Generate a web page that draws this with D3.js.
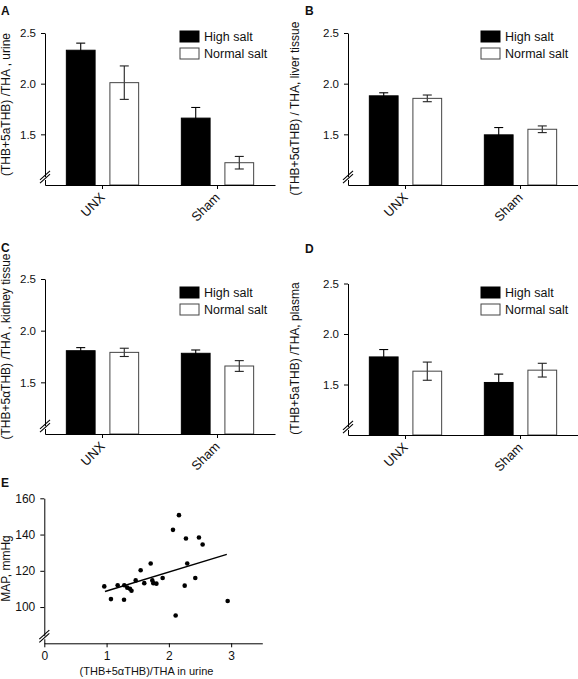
<!DOCTYPE html>
<html><head><meta charset="utf-8">
<script src="https://cdn.jsdelivr.net/npm/d3@7"></script>
<style>body{margin:0;background:#fff} svg{display:block} text{font-family:"Liberation Sans",Arial,sans-serif;fill:#111}</style>
</head><body><svg id="c" width="578" height="679"></svg>
<script>
// ---------- data ----------
const categories = ["UNX", "Sham"];
const seriesNames = ["High salt", "Normal salt"];
const barTicks = [1.5, 2.0, 2.5];
const aHigh = [2.33, 1.66],  aHighErr = [0.07, 0.105];
const aNormal = [2.01, 1.22], aNormalErr = [0.165, 0.062];
const bHigh = [1.88, 1.495], bHighErr = [0.03, 0.072];
const bNormal = [1.855, 1.55], bNormalErr = [0.033, 0.033];
const cHigh = [1.806, 1.781], cHighErr = [0.03, 0.032];
const cNormal = [1.79, 1.658], cNormalErr = [0.04, 0.052];
const dHigh = [1.773, 1.52], dHighErr = [0.073, 0.083];
const dNormal = [1.632, 1.642], dNormalErr = [0.09, 0.068];
const eX = [0.963,1.07,1.178,1.284,1.28,1.332,1.375,1.40,1.467,1.547,1.605,1.708,1.734,1.75,1.80,1.90,2.066,2.162,2.109,2.254,2.274,2.295,2.424,2.483,2.542,2.944];
const eY = [111.4,104.4,112.0,112.0,104.0,110.7,110.1,109.0,114.7,120.3,113.2,124.0,114.7,113.2,112.9,116.0,142.6,150.7,95.3,111.8,137.8,124.0,116.0,138.4,134.5,103.3];
const eLineX = [0.974, 2.93], eLineY = [108.6, 129.1];
const eXTicks = [0, 1, 2, 3], eYTicks = [100, 120, 140, 160];

// ---------- layout ----------
const svg = d3.select("#c");
const FONT = '"Liberation Sans",Arial,sans-serif';
const panels = [
  {label:"A", lx:1, ly:15, ylab:"(THB+5aTHB) /THA , urine", ylx:10, yly:104.5, x0:45, yTop:33, yBot:185, legX:180, legY:31, high:aHigh, highErr:aHighErr, normal:aNormal, normalErr:aNormalErr},
  {label:"B", lx:305, ly:15, ylab:"(THB+5\u03b1THB) / THA, liver tissue", ylx:299, yly:108.5, x0:348, yTop:33, yBot:185, legX:481, legY:31, high:bHigh, highErr:bHighErr, normal:bNormal, normalErr:bNormalErr},
  {label:"C", lx:1, ly:252, ylab:"(THB+5\u03b1THB) /THA , kidney tissue", ylx:10, yly:346.5, x0:45, yTop:279, yBot:434, legX:180, legY:287, high:cHigh, highErr:cHighErr, normal:cNormal, normalErr:cNormalErr},
  {label:"D", lx:305, ly:253, ylab:"(THB+5aTHB) /THA, plasma", ylx:299, yly:358.5, x0:348, yTop:283.5, yBot:435, legX:481, legY:287, high:dHigh, highErr:dHighErr, normal:dNormal, normalErr:dNormalErr}
];

function breakMark(g, x, y) {
  g.append("line").attr("x1", x-4).attr("x2", x+4).attr("y1", y+1.5).attr("y2", y+1.5).attr("stroke","#fff").attr("stroke-width",3);
  [-1.6, 1.6].forEach(o => {
    g.append("line").attr("x1", x-5).attr("y1", y+o+4.5).attr("x2", x+5).attr("y2", y+o-4.5)
      .attr("stroke","#000").attr("stroke-width",1.1);
  });
}

panels.forEach(p => {
  const g = svg.append("g");
  const y = d3.scaleLinear().domain([1.0, 2.5]).range([p.yBot, p.yTop]);
  const x0 = d3.scaleBand().domain(categories).range([p.x0, p.x0 + 230]).padding(0);
  const x1 = d3.scaleBand().domain(seriesNames).range([0, x0.bandwidth()]).paddingInner(0.34).paddingOuter(0.49);

  const rows = [];
  categories.forEach((c, i) => {
    rows.push({c, s:seriesNames[0], v:p.high[i], e:p.highErr[i]});
    rows.push({c, s:seriesNames[1], v:p.normal[i], e:p.normalErr[i]});
  });
  rows.forEach(r => {
    const cx = x0(r.c) + x1(r.s) + x1.bandwidth()/2;
    const col = r.s === seriesNames[0] ? "#000" : "#222";
    g.append("line").attr("x1", cx).attr("x2", cx).attr("y1", y(r.v + r.e)).attr("y2", y(r.v - r.e)).attr("stroke", col).attr("stroke-width", 1.1);
    [r.v + r.e, r.v - r.e].forEach(v => {
      g.append("line").attr("x1", cx-4.5).attr("x2", cx+4.5).attr("y1", y(v)).attr("y2", y(v)).attr("stroke", col).attr("stroke-width", 1.1);
    });
  });
  rows.forEach(r => {
    const isHigh = r.s === seriesNames[0];
    g.append("rect").attr("x", x0(r.c) + x1(r.s)).attr("y", y(r.v))
      .attr("width", x1.bandwidth()).attr("height", y(1.0) - y(r.v))
      .attr("fill", isHigh ? "#000" : "#fff")
      .attr("fill-opacity", isHigh ? 1 : 0)
      .attr("stroke", isHigh ? "#000" : "#444").attr("stroke-width", 1);
  });

  const ya = g.append("g").attr("transform", `translate(${p.x0},0)`)
    .call(d3.axisLeft(y).tickValues(barTicks).tickFormat(d3.format(".1f")).tickSize(4).tickSizeOuter(0).tickPadding(5));
  ya.selectAll("text").attr("font-size", 11.5).style("font-family", FONT).attr("fill","#111");
  ya.selectAll("line,path").attr("stroke","#000");
  const xa = g.append("g").attr("transform", `translate(0,${p.yBot})`)
    .call(d3.axisBottom(x0).tickSize(4).tickSizeOuter(0).tickFormat(""));
  xa.selectAll("line,path").attr("stroke","#000");
  categories.forEach(c => {
    const cx = x0(c) + x0.bandwidth()/2;
    g.append("text").attr("transform", `translate(${cx},${p.yBot+10}) rotate(-45)`)
      .attr("text-anchor","end").attr("dy","0.35em").attr("font-size", 13).text(c);
  });
  breakMark(g, p.x0, p.yBot - 8);

  seriesNames.forEach((s, i) => {
    const ly = p.legY + i*17;
    g.append("rect").attr("x", p.legX).attr("y", ly).attr("width", 19).attr("height", 11)
      .attr("fill", i === 0 ? "#000" : "#fff").attr("stroke", i === 0 ? "#000" : "#444");
    g.append("text").attr("x", p.legX + 24).attr("y", ly + 10).attr("font-size", 12.5).text(s);
  });
  g.append("text").attr("x", p.lx).attr("y", p.ly).attr("font-size", 12).attr("font-weight","bold").text(p.label);
  g.append("text").attr("transform", `translate(${p.ylx},${p.yly}) rotate(-90)`).attr("text-anchor","middle")
    .attr("font-size", 12).text(p.ylab);
});

// ---------- panel E ----------
{
  const g = svg.append("g");
  const x = d3.scaleLinear().domain([0, 3.5]).range([44.3, 262.3]);
  const y = d3.scaleLinear().domain([80, 160]).range([643.3, 498.3]);
  const ya = g.append("g").attr("transform", `translate(${x(0)},0)`)
    .call(d3.axisLeft(y).tickValues(eYTicks).tickFormat(d3.format("d")).tickSize(4).tickSizeOuter(0).tickPadding(5));
  const xa = g.append("g").attr("transform", `translate(0,${y(80)})`)
    .call(d3.axisBottom(x).tickValues(eXTicks).tickFormat(d3.format("d")).tickSize(4).tickSizeOuter(0).tickPadding(4));
  [ya, xa].forEach(a => {
    a.selectAll("text").attr("font-size", 12).style("font-family", FONT).attr("fill","#111");
    a.selectAll("line,path").attr("stroke","#000");
  });
  breakMark(g, x(0), y(80) - 7);
  g.append("line").attr("x1", x(eLineX[0])).attr("y1", y(eLineY[0])).attr("x2", x(eLineX[1])).attr("y2", y(eLineY[1]))
    .attr("stroke","#000").attr("stroke-width", 1.4);
  g.selectAll("circle.pt").data(eX.map((v,i)=>[v,eY[i]])).join("circle")
    .attr("cx", d => x(d[0])).attr("cy", d => y(d[1])).attr("r", 2.3).attr("fill","#000");
  g.append("text").attr("x", 1).attr("y", 487).attr("font-size", 12).attr("font-weight","bold").text("E");
  g.append("text").attr("transform", `translate(10,568.5) rotate(-90)`).attr("text-anchor","middle").attr("font-size",12).text("MAP, mmHg");
  g.append("text").attr("x", 146.5).attr("y", 675).attr("text-anchor","middle").attr("font-size",11).text("(THB+5\u03b1THB)/THA in urine");
}
</script></body></html>
